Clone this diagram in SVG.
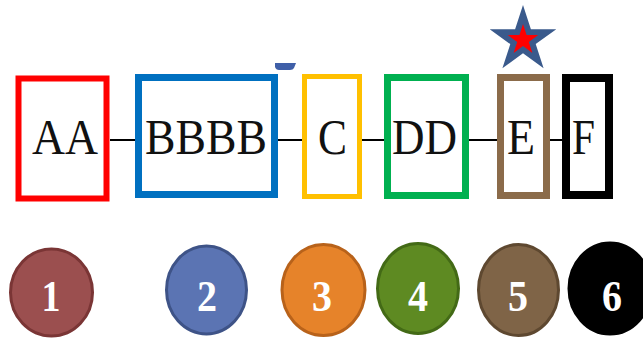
<svg xmlns="http://www.w3.org/2000/svg" width="643" height="339" viewBox="0 0 643 339">
<style>
.box{fill:#fff}
.lbl{font-family:"Liberation Serif","Times New Roman",serif;font-size:50px;fill:#111;text-anchor:middle}
.num{font-family:"Liberation Serif","Times New Roman",serif;font-size:44px;font-weight:bold;fill:#fff;text-anchor:middle}
.conn{stroke:#000;stroke-width:2;fill:none}
</style>
<rect width="643" height="339" fill="#fff"/>
<g id="connectors">
<line class="conn" x1="110" y1="140" x2="136" y2="140"/>
<line class="conn" x1="278" y1="140" x2="302" y2="140"/>
<line class="conn" x1="362" y1="140" x2="384" y2="140"/>
<line class="conn" x1="469" y1="140" x2="497" y2="140"/>
<line class="conn" x1="550" y1="140" x2="563" y2="140" stroke-width="4"/>
</g>
<g id="blob"><path d="M275,63 H296 L294,68 Q293,70 290,70 H279 Q276,70 275,67 Z" fill="#3F5FA8"/></g>
<g id="nodeAA"><rect class="box" x="18.5" y="78.5" width="88" height="120" stroke="#FF0000" stroke-width="6"/><text class="lbl" x="65" y="154" textLength="66" lengthAdjust="spacingAndGlyphs">AA</text></g>
<g id="nodeBBBB"><rect class="box" x="138.5" y="77.5" width="136" height="117" stroke="#0070C0" stroke-width="7"/><text class="lbl" x="206" y="154" textLength="122" lengthAdjust="spacingAndGlyphs">BBBB</text></g>
<g id="nodeC"><rect class="box" x="304.5" y="76.5" width="55" height="120" stroke="#FFC000" stroke-width="5"/><text class="lbl" x="332.5" y="154" textLength="29" lengthAdjust="spacingAndGlyphs">C</text></g>
<g id="nodeDD"><rect class="box" x="387.5" y="77.5" width="78" height="118" stroke="#00B050" stroke-width="7"/><text class="lbl" x="424.5" y="154" textLength="65" lengthAdjust="spacingAndGlyphs">DD</text></g>
<g id="nodeE"><rect class="box" x="500.5" y="77.5" width="46" height="118" stroke="#8B6B4A" stroke-width="7"/><text class="lbl" x="521" y="154" textLength="28" lengthAdjust="spacingAndGlyphs">E</text></g>
<g id="nodeF"><rect class="box" x="566" y="78" width="43" height="117" stroke="#000" stroke-width="8"/><text class="lbl" x="583.5" y="154" textLength="23" lengthAdjust="spacingAndGlyphs">F</text></g>
<g id="star">
<polygon points="523,5 530.9,29.2 556.3,29.2 535.7,44.1 543.6,68.3 523,53.3 502.4,68.3 510.3,44.1 489.7,29.2 515.1,29.2" fill="#3A5A8C"/>
<polygon points="523,24 526.6,35.1 538.2,35.1 528.8,41.9 532.4,52.9 523,46.1 513.6,52.9 517.2,41.9 507.8,35.1 519.4,35.1" fill="#FF0000"/>
</g>
<g id="n1"><ellipse cx="51.5" cy="292.5" rx="41" ry="43.5" fill="#9B4F4F" stroke="#7A3535" stroke-width="3"/><text class="num" x="51" y="311" textLength="19" lengthAdjust="spacingAndGlyphs">1</text></g>
<g id="n2"><ellipse cx="206.5" cy="290" rx="40" ry="44" fill="#5B74B3" stroke="#3E5387" stroke-width="3"/><text class="num" x="207" y="311" textLength="20" lengthAdjust="spacingAndGlyphs">2</text></g>
<g id="n3"><ellipse cx="323.5" cy="290" rx="41.5" ry="45.5" fill="#E6832A" stroke="#B8621A" stroke-width="3"/><text class="num" x="322" y="311" textLength="20" lengthAdjust="spacingAndGlyphs">3</text></g>
<g id="n4"><ellipse cx="418" cy="288.5" rx="40.5" ry="45" fill="#5E8A22" stroke="#436A16" stroke-width="3"/><text class="num" x="418" y="311" textLength="20" lengthAdjust="spacingAndGlyphs">4</text></g>
<g id="n5"><ellipse cx="518.5" cy="290" rx="40" ry="45.5" fill="#7F6447" stroke="#5E4830" stroke-width="3"/><text class="num" x="518" y="311" textLength="20" lengthAdjust="spacingAndGlyphs">5</text></g>
<g id="n6"><ellipse cx="610" cy="288.5" rx="41" ry="45.5" fill="#000" stroke="#000" stroke-width="3"/><text class="num" x="612" y="311" textLength="20" lengthAdjust="spacingAndGlyphs">6</text></g>
</svg>
